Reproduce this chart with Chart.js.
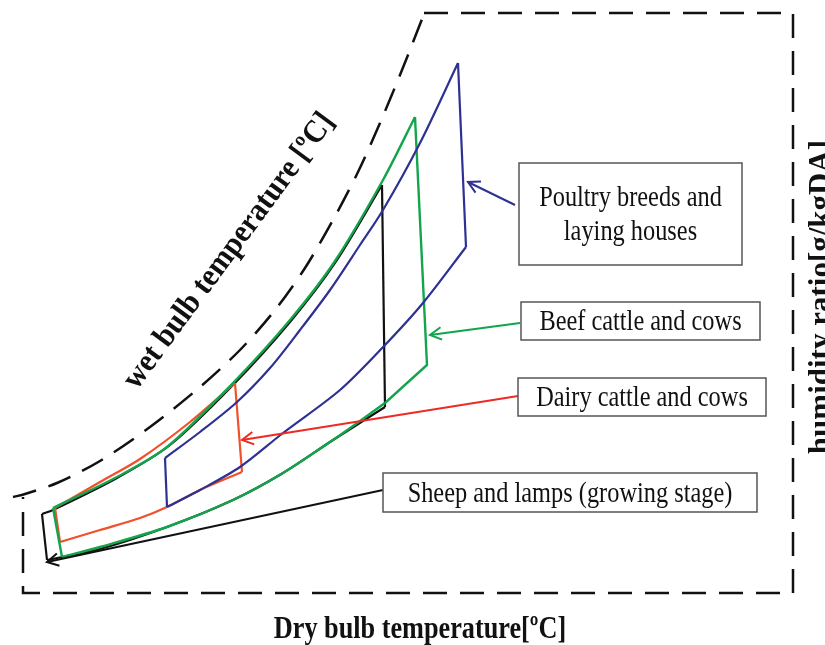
<!DOCTYPE html>
<html>
<head>
<meta charset="utf-8">
<script src="https://cdn.jsdelivr.net/npm/chart.js@4.4.1/dist/chart.umd.min.js"></script>
<style>
  html, body { margin: 0; padding: 0; background: #fff; }
  #wrap { width: 825px; height: 645px; position: relative; }
</style>
</head>
<body>
<div id="wrap"><canvas id="chart"></canvas></div>
<script>
// schematic units: x = dry bulb (arbitrary), y = humidity ratio (arbitrary)
const boundaryCurve = [[1.3,14.8],[2.5,15.1],[5.7,16.2],[10.0,18.4],[15.0,21.8],[20.0,25.8],[24.0,29.5],[27.5,33.5],[30.5,37.7],[33.3,42.5],[35.8,47.3],[38.0,52.2],[40.2,57.5],[42.4,63.1]];
const boundaryBox = [[42.4,63.2],[79.3,63.2],[79.3,5.2],[2.3,5.2],[2.3,14.8]];

const sheepTop = [[4.2,13.1],[5.3,13.5],[11.7,16.7],[17.0,20.0],[23.3,26.0],[29.0,32.3],[33.5,38.2],[38.2,46.0]];
const sheepBottom = [[38.5,23.8],[33.3,20.5],[28.3,17.2],[23.3,14.5],[16.7,11.8],[10.0,9.6],[4.7,8.5]];
const sheepEdges = [[[4.2,13.1],[4.7,8.5]], [[38.2,46.0],[38.5,23.8]]];

const beefTop = [[5.3,13.7],[11.7,16.8],[16.7,19.8],[23.3,26.2],[29.0,32.5],[33.5,38.4],[38.3,46.5],[41.5,52.8]];
const beefBottom = [[38.5,24.2],[33.3,20.5],[28.3,17.2],[23.3,14.5],[16.7,11.8],[10.0,9.8],[6.2,8.8]];
const beefEdges = [[[5.3,13.7],[6.2,8.8]], [[41.5,52.8],[42.7,28.0],[38.5,24.2]]];

const dairyTop = [[23.5,26.2],[19.0,22.3],[14.0,18.6],[10.0,16.3],[5.5,13.7]];
const dairyBottom = [[6.0,10.3],[10.0,11.5],[14.0,12.7],[16.7,13.8],[20.0,15.5],[24.2,17.3]];
const dairyEdges = [[[5.5,13.7],[6.0,10.3]], [[24.2,17.3],[23.5,26.2]]];

const poultryTop = [[16.5,18.7],[20.0,21.3],[23.7,24.3],[27.0,27.7],[30.0,31.5],[33.0,35.5],[36.0,40.0],[38.3,43.5],[42.0,50.2],[45.8,58.2]];
const poultryBottom = [[46.6,39.8],[42.3,34.2],[38.5,30.0],[34.0,25.5],[28.3,21.2],[24.0,17.8],[20.0,15.5],[16.7,13.8]];
const poultryEdges = [[[16.5,18.7],[16.7,13.8]], [[45.8,58.2],[46.6,39.8]]];

const pointerLines = [[[51.5,44.0],[46.8,46.3]], [[52.0,32.2],[43.0,31.0]], [[51.8,24.9],[24.2,20.5]], [[38.3,15.5],[4.7,8.3]]];
const pointerColors = ['#2e3192', '#12a54c', '#ee2a24', '#111111'];

const boxLabels = [['Poultry breeds and', 'laying houses'], ['Beef cattle and cows'], ['Dairy cattle and cows'], ['Sheep and lamps (growing stage)']];
const boxCorners = [[51.9,48.2,74.2,38.0], [52.1,34.3,76.0,30.5], [51.8,26.7,76.6,22.9], [38.3,17.2,75.7,13.3]];

const BLUE = '#2e3192', GREEN = '#12a54c', RED = '#f0502a', BLACK = '#111111';

function line(points, color, width, tension, dash) {
    return {
        data: points.map(p => ({ x: p[0], y: p[1] })),
        showLine: true,
        borderColor: color,
        borderWidth: width,
        borderDash: dash || [],
        pointRadius: 0,
        tension: tension,
        fill: false
    };
}

const datasets = [];
// first dataset is drawn on top
pointerLines.forEach((p, i) => datasets.push(line(p, pointerColors[i], 2, 0)));
datasets.push(line(poultryTop, BLUE, 2.2, 0.3), line(poultryBottom, BLUE, 2.2, 0.3));
poultryEdges.forEach(e => datasets.push(line(e, BLUE, 2.2, 0)));
datasets.push(line(beefTop, GREEN, 2.4, 0.3), line(beefBottom, GREEN, 2.4, 0.3));
beefEdges.forEach(e => datasets.push(line(e, GREEN, 2.4, 0)));
datasets.push(line(dairyTop, RED, 2.2, 0.3), line(dairyBottom, RED, 2.2, 0.3));
dairyEdges.forEach(e => datasets.push(line(e, RED, 2.2, 0)));
datasets.push(line(sheepTop, BLACK, 2.2, 0.3), line(sheepBottom, BLACK, 2.2, 0.3));
sheepEdges.forEach(e => datasets.push(line(e, BLACK, 2.2, 0)));
datasets.push(line(boundaryCurve, BLACK, 2.5, 0.3, [24, 13]));
datasets.push(line(boundaryBox, BLACK, 2.5, 0, [24, 13]));

function drawText(ctx, text, x, y, font, hscale, angle) {
    ctx.save();
    ctx.translate(x, y);
    if (angle) ctx.rotate(angle);
    ctx.scale(hscale, 1);
    ctx.font = font;
    ctx.fillStyle = '#111';
    ctx.textAlign = 'center';
    ctx.fillText(text, 0, 0);
    ctx.restore();
}

const annotations = {
    id: 'annotations',
    afterDraw(chart) {
        const ctx = chart.ctx;
        const xs = chart.scales.x, ys = chart.scales.y;
        const px = v => xs.getPixelForValue(v), py = v => ys.getPixelForValue(v);

        // arrow heads at the end of each pointer
        pointerLines.forEach((p, i) => {
            const x0 = px(p[0][0]), y0 = py(p[0][1]);
            const x1 = px(p[1][0]), y1 = py(p[1][1]);
            const a = Math.atan2(y1 - y0, x1 - x0);
            ctx.save();
            ctx.strokeStyle = pointerColors[i];
            ctx.lineWidth = 2;
            ctx.beginPath();
            ctx.moveTo(x1 - 13 * Math.cos(a - 0.5), y1 - 13 * Math.sin(a - 0.5));
            ctx.lineTo(x1, y1);
            ctx.lineTo(x1 - 13 * Math.cos(a + 0.5), y1 - 13 * Math.sin(a + 0.5));
            ctx.stroke();
            ctx.restore();
        });

        // label boxes
        boxCorners.forEach((b, i) => {
            const l = px(b[0]), t = py(b[1]), r = px(b[2]), bt = py(b[3]);
            ctx.save();
            ctx.fillStyle = '#fff';
            ctx.fillRect(l, t, r - l, bt - t);
            ctx.strokeStyle = '#555';
            ctx.lineWidth = 1.5;
            ctx.strokeRect(l, t, r - l, bt - t);
            ctx.restore();
            const lines = boxLabels[i];
            const cx = (l + r) / 2, cy = (t + bt) / 2;
            lines.forEach((s, j) => {
                const y = cy + (j - (lines.length - 1) / 2) * 34 + 9;
                drawText(ctx, s, cx, y, '29px "Liberation Serif"', 0.84);
            });
        });

        // titles
        drawText(ctx, 'Dry bulb temperature[ºC]', px(42.0), py(0.7), 'bold 32px "Liberation Serif"', 0.82);
        drawText(ctx, 'wet bulb temperature [ºC]', px(23.6), py(38.9), 'bold 32px "Liberation Serif"', 0.93, -53.6 * Math.PI / 180);
        drawText(ctx, 'humidity ratio[g/kgDA]', px(83.0), py(34.8), 'bold 31px "Liberation Serif"', 1, -Math.PI / 2);
    }
};

new Chart(document.getElementById('chart'), {
    type: 'scatter',
    data: { datasets: datasets },
    options: {
        responsive: true,
        maintainAspectRatio: false,
        animation: false,
        layout: { padding: 0 },
        plugins: { legend: { display: false }, tooltip: { enabled: false } },
        scales: {
            x: { type: 'linear', min: 0, max: 82.5, display: false },
            y: { type: 'linear', min: 0, max: 64.5, display: false }
        }
    },
    plugins: [annotations]
});
</script>
</body>
</html>
